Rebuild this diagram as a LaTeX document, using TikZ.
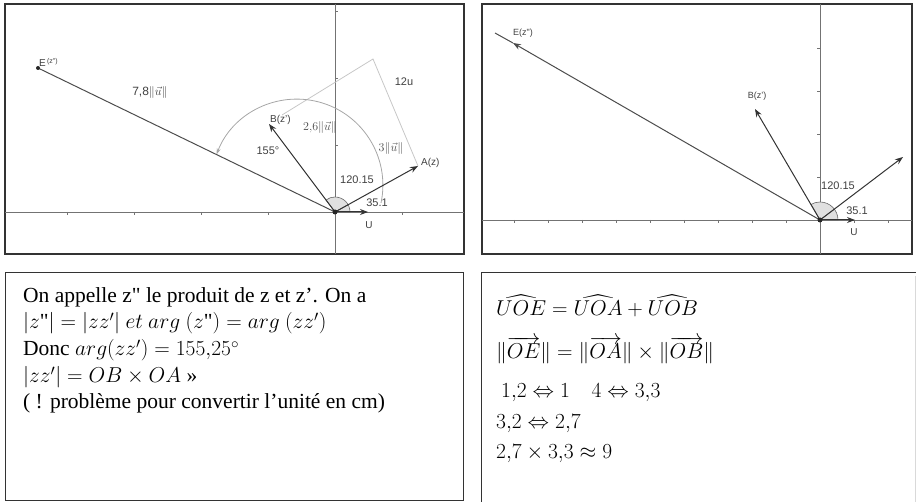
\documentclass[tikz,border=0pt]{standalone}
\usepackage{fix-cm}
\usepackage{amsmath}
\usepackage{fontspec}
\setmainfont{Liberation Serif}
\setsansfont{Liberation Sans}
\usetikzlibrary{arrows.meta,positioning}
\tikzset{
  panel/.style={draw=black!80,line width=1.1pt},
  axis/.style={draw=black!55,line width=0.9pt},
  vect/.style={-{Stealth[length=8pt,width=6pt]},draw=black!80,line width=1pt},
  ray/.style={draw=black!70,line width=1pt},
  guide/.style={draw=black!22,line width=0.8pt},
  angmark/.style={fill=black!12,draw=black!60,line width=0.6pt},
  lbl/.style={font=\sffamily\fontsize{10}{12}\selectfont,text=black!75,inner sep=1pt},
  mlbl/.style={font=\fontsize{12}{14}\selectfont,text=black!70,inner sep=1pt},
  txtline/.style={anchor=base west,inner sep=0pt,font=\fontsize{21.5}{26}\selectfont}
}

\begin{document}
\begin{tikzpicture}[x=1pt,y=1pt,>=Stealth]
  \useasboundingbox (0,0) rectangle (916,-502);
  % left plot
  \draw[panel] (5,-4) rectangle (464,-254);
  \coordinate (O1) at (335,-212);
  \coordinate (A1) at (418,-166);
  \coordinate (B1) at (269,-124);
  \coordinate (E1) at (38,-68);
  \coordinate (U1) at (368,-212);
  \coordinate (C1) at (373,-59);
  \coordinate (D1) at (282,-115);
  \coordinate (S1) at (381,-203);
  \draw[axis] (5,-212) -- (464,-212);
  \draw[axis] (335,-4) -- (335,-254);
  \foreach \x in {67,134,201,268,402}
    \draw[axis] (\x,-212) -- (\x,-215);
  \foreach \y in {11,78,145}
    \draw[axis] (335,-\y) -- (338,-\y);
  \draw[guide] (D1) -- (C1) -- (A1);
  \draw[guide,draw=black!35,-{Stealth[length=6pt,width=4pt]}] (S1) arc[start angle=-12,end angle=159,radius=86];
  \filldraw[angmark] (O1) -- ++(15,0) arc[start angle=0,end angle=127,radius=15] -- cycle;
  \draw[angmark,fill=none] (O1) -- ++(29:15);
  \draw[ray] (O1) -- (E1);
  \draw[vect] (O1) -- (B1);
  \draw[vect] (O1) -- (A1);
  \draw[vect] (O1) -- (U1);
  \fill[black!85] (O1) circle (2.5pt);
  \fill[black!85] (E1) circle (2pt);
  \node[lbl,above right=0pt and 0pt of E1] {E\textsuperscript{\,(z\textquotedbl)}};
  \node[lbl,right=0pt of B1,yshift=4pt] {B(z')};
  \node[lbl,right=2pt of A1,yshift=3pt] {A(z)};
  \node[lbl] at (369,-225) {U};
  \node[lbl,font=\sffamily\fontsize{12}{14}\selectfont] at (150,-93) {7,8$\|\vec u\|$};
  \node[lbl,font=\sffamily\fontsize{11}{13}\selectfont] at (268,-151) {155°};
  \node[mlbl] at (320,-128) {$2{,}6\|\vec u\|$};
  \node[mlbl] at (391,-149) {$3\|\vec u\|$};
  \node[lbl,font=\sffamily\fontsize{11}{13}\selectfont] at (404,-82) {12u};
  \node[lbl,font=\sffamily\fontsize{11}{13}\selectfont] at (357,-180) {120.15};
  \node[lbl,font=\sffamily\fontsize{11}{13}\selectfont] at (377,-203) {35.1};

  % right plot
  \draw[panel] (482,-4) rectangle (912,-254);
  \coordinate (O2) at (820,-220);
  \coordinate (A2) at (903,-157);
  \coordinate (B2) at (755,-109);
  \coordinate (E2) at (513,-43);
  \coordinate (F2) at (495,-33);
  \coordinate (U2) at (855,-220);
  \draw[axis] (482,-220) -- (912,-220);
  \draw[axis] (820,-4) -- (820,-254);
  \foreach \k in {-9,...,-1,1,2}
    \draw[axis] (820+34*\k,-220) -- (820+34*\k,-223);
  \foreach \k in {1,...,4}
    \draw[axis] (820,-220+43*\k) -- (817,-220+43*\k);
  \filldraw[angmark] (O2) -- ++(18,0) arc[start angle=0,end angle=120,radius=18] -- cycle;
  \draw[angmark,fill=none] (O2) -- ++(37:18);
  \draw[ray] (E2) -- (F2);
  \draw[vect,draw=black!70] (O2) -- (E2);
  \draw[vect] (O2) -- (B2);
  \draw[vect] (O2) -- (A2);
  \draw[vect] (O2) -- (U2);
  \fill[black!85] (O2) circle (2.5pt);
  \node[lbl,font=\sffamily\fontsize{9}{11}\selectfont] at (523,-33) {E(z\textquotedbl)};
  \node[lbl,font=\sffamily\fontsize{9}{11}\selectfont] at (757,-96) {B(z')};
  \node[lbl] at (854,-232) {U};
  \node[lbl,font=\sffamily\fontsize{11}{13}\selectfont] at (838,-186) {120.15};
  \node[lbl,font=\sffamily\fontsize{11}{13}\selectfont] at (857,-211) {35.1};

  % left text box
  \draw[panel,line width=1pt] (5,-273) rectangle (463,-500);
  \node[txtline] (q1) at (23,-303) {On appelle z\textquotedbl{} le produit de z et z’. On a};
  \node[txtline] (q2) at (23,-329) {$|z\text{\textquotedbl}| = |zz'|\ et\ arg\ (z\text{\textquotedbl}) = arg\ (zz')$};
  \node[txtline] (q3) at (23,-356) {Donc $arg(zz') = 155{,}25^\circ$};
  \node[txtline] (q4) at (23,-383) {$|zz'| = OB \times OA$ »};
  \node[txtline] (q5) at (23,-409) {( ! problème pour convertir l’unité en cm)};

  % right text box
  \draw[panel,line width=1pt] (481,-502) |- (916,-273);
  \draw[black!15] (915,-276) -- (915,-502);
  \node[txtline] (r1) at (496,-316) {$\widehat{UOE} = \widehat{UOA} + \widehat{UOB}$};
  \node[txtline] (r2) at (496,-359) {$\|\overrightarrow{OE}\| = \|\overrightarrow{OA}\| \times \|\overrightarrow{OB}\|$};
  \node[txtline] (r3) at (501,-398) {$1{,}2 \Leftrightarrow 1 \quad 4 \Leftrightarrow 3{,}3$};
  \node[txtline] (r4) at (496,-429) {$3{,}2 \Leftrightarrow 2{,}7$};
  \node[txtline] (r5) at (496,-459) {$2{,}7 \times 3{,}3 \approx 9$};
\end{tikzpicture}
\end{document}
